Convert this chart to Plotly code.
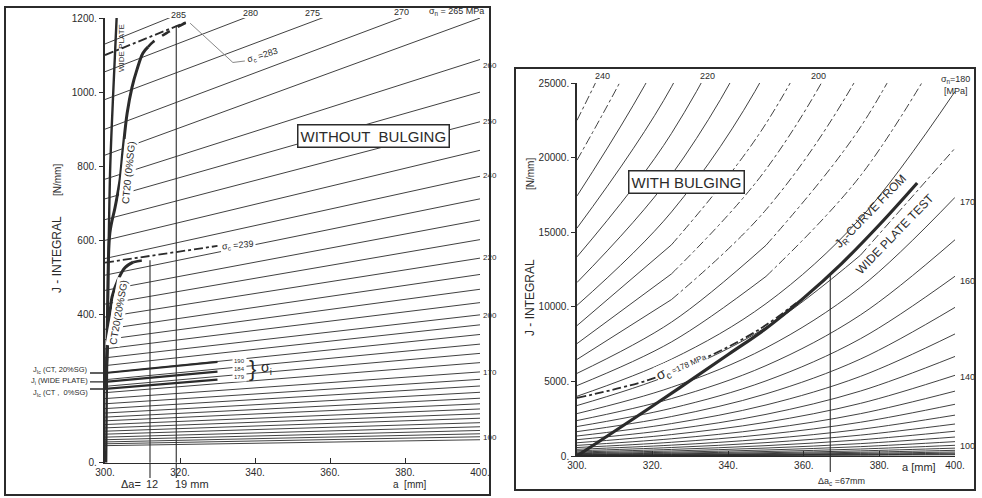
import plotly.graph_objects as go

W, H = 982, 498

# ---------------- LEFT PANEL (WITHOUT BULGING) ----------------
sigma_left = [100, 105, 110, 115, 120, 125, 130, 135, 140, 145, 150, 155, 160, 165,
              170, 175, 180, 185, 190, 195, 200, 205, 210, 215, 220, 225, 230, 235,
              240, 245, 250, 255, 260, 265, 270, 275, 280, 285]
J300_left = [46, 51, 56, 62, 69, 77, 85, 94, 103, 113, 123, 134, 146, 159,
             173, 189, 206, 224, 242, 262, 283, 307, 332, 360, 393, 428, 465, 506,
             551, 600, 656, 712, 765, 830, 900, 980, 1055, 1130]
J400_left = [62, 70, 78, 87, 97, 108, 120, 132, 145, 159, 174, 190, 207, 225,
             245, 270, 295, 320, 346, 372, 399, 432, 468, 508, 552, 602, 655, 712,
             773, 843, 920, 1000, 1088, 1200, 1280, 1360, 1445, 1540]
a_left_ends = [300, 400]

wide_plate_a = [300.3, 300.5, 300.7, 301.0, 301.4, 302.2, 303.1]
wide_plate_J = [0, 222, 400, 600, 800, 1000, 1200]

ct0_a = [300.3, 300.7, 301.3, 302.7, 304.0, 304.8, 305.9, 307.2, 308.5, 310.1, 311.5]
ct0_J = [199, 420, 620, 690, 763, 844, 943, 1013, 1060, 1105, 1122]
ct0_dash_a = [311.5, 312.8, 316.5, 321.9]
ct0_dash_J = [1122, 1135, 1160, 1189]

ct20_a = [300.3, 300.6, 300.8, 301.9, 303.5, 305.3, 307.5]
ct20_J = [242, 300, 332, 448, 494, 526, 541]
ct20_dash_a = [307.5, 309.5, 311.8]
ct20_dash_J = [541, 545, 548]

sc283_a = [300, 322]
sc283_J = [1100, 1190]
sc283_leader_a = [322.7, 334.1, 337.3]
sc283_leader_J = [1186, 1080, 1084]

sc239_a = [300, 330]
sc239_J = [540, 585]

sigma_i_a = [300, 330]
sigma_i_J_start = [242, 218, 199]
sigma_i_J_end = [272, 246, 224]
j1c_labels = ["J<sub>Ic</sub> (CT, 20%SG)", "J<sub>i</sub> (WIDE PLATE)", "J<sub>Ic</sub> (CT ,  0%SG)"]

delta_a_left = [312, 319]
delta_a_top_J = [546, 1180]

left_xticks = [300, 320, 340, 360, 380, 400]
left_yticks = [0, 400, 600, 800, 1000, 1200]

# ---------------- RIGHT PANEL (WITH BULGING) ----------------
sigma_right = [70, 75, 80, 85, 90, 95, 100, 105, 110, 115, 120, 125, 130, 135, 140,
               145, 150, 155, 160, 165, 170, 175, 180, 185, 190, 195, 200, 205, 210,
               215, 220, 225, 230, 235, 240]
a_right = [300, 325, 350, 375, 400]
J_r300 = [14, 21, 31, 44, 63, 87, 118, 158, 209, 272, 352, 449, 568, 713, 887,
          1094, 1341, 1633, 1975, 2376, 2842, 3382, 4005, 4720, 5539, 6473, 7535, 8739, 10098,
          11629, 13349, 15276, 17429, 19830, 22500]
J_r325 = [23, 34, 50, 72, 102, 141, 191, 256, 338, 441, 570, 727, 920, 1155, 1436,
          1772, 2172, 2645, 3200, 3849, 4604, 5479, 6488, 7646, 8973, 10486, 12207, 14157, 16359,
          18839, 21625, 24747, 28235, 32125, 36450]
J_r350 = [36, 53, 79, 113, 160, 221, 300, 402, 532, 694, 897, 1145, 1449, 1818, 2261,
          2790, 3420, 4164, 5036, 6059, 7247, 8624, 10213, 12036, 14124, 16506, 19214, 22284, 25750,
          29654, 34040, 38954, 44444, 50567, 57375]
J_r375 = [56, 83, 123, 177, 250, 344, 468, 628, 830, 1084, 1400, 1787, 2262, 2837, 3528,
          4354, 5337, 6499, 7861, 9456, 11311, 13460, 15940, 18786, 22045, 25763, 29989, 34781, 40190,
          46283, 53129, 60798, 69367, 78923, 89550]
J_r400 = [85, 128, 189, 271, 382, 528, 718, 963, 1272, 1661, 2145, 2739, 3467, 4348, 5408,
          6673, 8180, 9961, 12048, 14494, 17336, 20630, 24431, 28792, 33788, 39485, 45964, 53308, 61598,
          70937, 81429, 93184, 106317, 120963, 137250]
dashed_sigma_right = [240, 235, 205, 200, 195, 190, 185, 175]

jr_a = [300, 320, 340, 350, 360, 370, 380, 390]
jr_J = [0, 3350, 6800, 8550, 10600, 12900, 15500, 18300]

sc178_a = [300, 319, 335, 348, 358]
sc178_J = [3890, 5100, 6700, 8450, 10250]

delta_ac_a = 367
delta_ac_J = 12210

right_xticks = [300, 320, 340, 360, 380, 400]
right_yticks = [0, 5000, 10000, 15000, 20000, 25000]

# ---------------- helpers ----------------
INK = "#2b2b2b"
FONT = "Liberation Sans, Arial, sans-serif"


def PX(x):
    return x / W


def PY(y):
    return 1 - y / H


fig = go.Figure()


def line(x, y, xa, ya, width=1.0, dash="solid", color=INK, shape="linear"):
    fig.add_trace(go.Scatter(x=x, y=y, mode="lines", xaxis=xa, yaxis=ya,
                             line=dict(color=color, width=width, dash=dash, shape=shape),
                             hoverinfo="skip", showlegend=False))


# left family
for s, j0, j1 in zip(sigma_left, J300_left, J400_left):
    line(a_left_ends, [j0, j1], "x", "y", width=0.9)

for j0, j1 in zip(sigma_i_J_start, sigma_i_J_end):
    line(sigma_i_a, [j0, j1], "x", "y", width=2.2)

line(sc283_a, sc283_J, "x", "y", width=1.8, dash="dashdot")
line(sc239_a, sc239_J, "x", "y", width=1.8, dash="dashdot")
line(sc283_leader_a, sc283_leader_J, "x", "y", width=1.0, color="#888")

line(wide_plate_a, wide_plate_J, "x", "y", width=2.4, shape="spline")
line(ct0_a, ct0_J, "x", "y", width=3.0, shape="spline")
line(ct0_dash_a, ct0_dash_J, "x", "y", width=2.6, dash="dash", shape="spline")
line(ct20_a, ct20_J, "x", "y", width=3.0, shape="spline")
line(ct20_dash_a, ct20_dash_J, "x", "y", width=2.6, dash="dash", shape="spline")

# right family
cols = list(zip(J_r300, J_r325, J_r350, J_r375, J_r400))
for s, js in zip(sigma_right, cols):
    js = list(js)
    if s in dashed_sigma_right:
        k = 0
        for i, v in enumerate(js):
            if v <= 15000:
                k = i
        if js[0] <= 15000:
            line(a_right[:k + 1], js[:k + 1], "x2", "y2", width=0.9, shape="spline")
        line(a_right[k:], js[k:], "x2", "y2", width=0.9, dash="dashdot", shape="spline")
    else:
        line(a_right, js, "x2", "y2", width=0.9, shape="spline")

line(sc178_a, sc178_J, "x2", "y2", width=1.8, dash="dashdot", shape="spline")
line(jr_a, jr_J, "x2", "y2", width=3.2, shape="spline")

# ---------------- axes ----------------
ax_common = dict(showgrid=False, zeroline=False, showline=True, linecolor=INK,
                 automargin=False,
                 tickfont=dict(family=FONT, size=10, color=INK), tickcolor=INK)

fig.update_layout(
    width=W, height=H, margin=dict(l=0, r=0, t=0, b=0, pad=0, autoexpand=False),
    paper_bgcolor="white", plot_bgcolor="white", showlegend=False,
    xaxis=dict(domain=[PX(105), PX(480)], range=[300, 400], anchor="y",
               tickvals=left_xticks, ticktext=[f"{v}." for v in left_xticks],
               ticks="inside", ticklen=5, linewidth=1.4, **ax_common),
    yaxis=dict(domain=[PY(462.7), PY(18)], range=[0, 1200], anchor="x",
               tickvals=left_yticks, ticktext=[f"{v}." for v in left_yticks],
               ticks="outside", ticklen=4, linewidth=2.4, **ax_common),
    xaxis2=dict(domain=[PX(577), PX(955)], range=[300, 400], anchor="y2",
                tickvals=right_xticks, ticktext=[f"{v}." for v in right_xticks],
                ticks="inside", ticklen=5, linewidth=1.4, **ax_common),
    yaxis2=dict(domain=[PY(456), PY(83)], range=[0, 25000], anchor="x2",
                tickvals=right_yticks, ticktext=[f"{v}." for v in right_yticks],
                ticks="outside", ticklen=4, linewidth=1.6, **ax_common),
)

# ---------------- shapes ----------------
shapes = []
shapes.append(dict(type="rect", xref="paper", yref="paper", x0=PX(5), x1=PX(490),
                   y0=PY(495), y1=PY(7), line=dict(color=INK, width=2)))
shapes.append(dict(type="rect", xref="paper", yref="paper", x0=PX(515), x1=PX(975),
                   y0=PY(490), y1=PY(68), line=dict(color=INK, width=2)))
for a, jt in zip(delta_a_left, delta_a_top_J):
    shapes.append(dict(type="line", xref="x", yref="y", x0=a, x1=a, y0=0, y1=jt,
                       line=dict(color=INK, width=1.1)))
    shapes.append(dict(type="line", xref="x", yref="paper", x0=a, x1=a, y0=PY(478), y1=PY(462.7),
                       line=dict(color=INK, width=1.1)))
shapes.append(dict(type="line", xref="x2", yref="y2", x0=delta_ac_a, x1=delta_ac_a, y0=0,
                   y1=delta_ac_J, line=dict(color=INK, width=1.1)))
shapes.append(dict(type="line", xref="x2", yref="paper", x0=delta_ac_a, x1=delta_ac_a,
                   y0=PY(472), y1=PY(456), line=dict(color=INK, width=1.1)))
for j in sigma_i_J_start:
    shapes.append(dict(type="line", xref="paper", yref="y", x0=PX(90), x1=PX(105), y0=j, y1=j,
                       line=dict(color=INK, width=1.4)))
fig.update_layout(shapes=shapes)

# ---------------- annotations ----------------
ann = []


def txt(x, y, text, size=9, angle=0, xanchor="center", yanchor="middle", **kw):
    d = dict(x=PX(x), y=PY(y), xref="paper", yref="paper", text=text, showarrow=False,
             font=dict(family=FONT, size=size, color=INK), textangle=angle,
             xanchor=xanchor, yanchor=yanchor)
    d.update(kw)
    ann.append(d)


# left panel texts
txt(178, 15, "285")
txt(250, 13, "280")
txt(312, 13, "275")
txt(401, 12, "270")
txt(456, 11, "σ<sub>n</sub> = 265 MPa")
for lab, yy in [("260", 66), ("250", 122), ("240", 176), ("220", 257), ("200", 315),
                ("170", 372), ("100", 437)]:
    txt(481, yy, lab, size=8, xanchor="left")
txt(373, 136, "WITHOUT  BULGING", size=15, bordercolor=INK, borderwidth=1.5,
    borderpad=2, bgcolor="white")
txt(263, 56, "σ<sub>c</sub> =283", size=9, angle=-17)
txt(238, 245, "σ<sub>c</sub> =239", size=9, angle=-5, bgcolor="white")
txt(122, 48, "WIDE PLATE", size=8, angle=-90)
txt(128, 172, "CT20 (0%SG)", size=10, angle=-84, bgcolor="white")
txt(118, 312, "CT20(20%SG)", size=10, angle=-80, bgcolor="white")
txt(239, 369, "190<br>184<br>179", size=6, bgcolor="white")
txt(252, 368, "}", size=22)
txt(266, 368, "σ<sub>i</sub>", size=14)
for lab, yy in zip(j1c_labels, [370, 381, 393]):
    txt(90, yy, lab, size=7.5, xanchor="right")
txt(57, 255, "J - INTEGRAL", size=12, angle=-90)
txt(57, 180, "[N/mm]", size=10, angle=-90)
txt(131, 484, "Δa=", size=11)
txt(152, 484, "12", size=11)
txt(192, 484, "19 mm", size=11)
txt(410, 484, "a  [mm]", size=10)

# right panel texts
txt(602, 76, "240")
txt(707, 76, "220")
txt(818, 76, "200")
txt(955, 85, "σ<sub>n</sub>=180<br>[MPa]", size=9)
for lab, yy in [("170", 202), ("160", 281), ("140", 377), ("100", 446)]:
    txt(958, yy, lab, size=9, xanchor="left")
txt(686, 182, "WITH BULGING", size=15, bordercolor=INK, borderwidth=1.5,
    borderpad=2, bgcolor="white")
txt(681, 366, "<span style='font-size:14px'>σ<sub>c</sub></span> =178 MPa", size=8,
    angle=-24, bgcolor="white", borderpad=0)
txt(871, 212, "J<sub>R</sub>-CURVE FROM", size=12, angle=-46)
txt(895, 234, "WIDE PLATE TEST", size=12, angle=-46)
txt(530, 298, "J - INTEGRAL", size=12, angle=-90)
txt(530, 174, "[N/mm]", size=10, angle=-90)
txt(919, 467, "a [mm]", size=11)
txt(841, 481, "Δa<sub>c</sub> =67mm", size=9)

fig.update_layout(annotations=ann)

fig.write_html("out.html", config={"displayModeBar": False},
               post_script="document.body.style.margin='0px';")
